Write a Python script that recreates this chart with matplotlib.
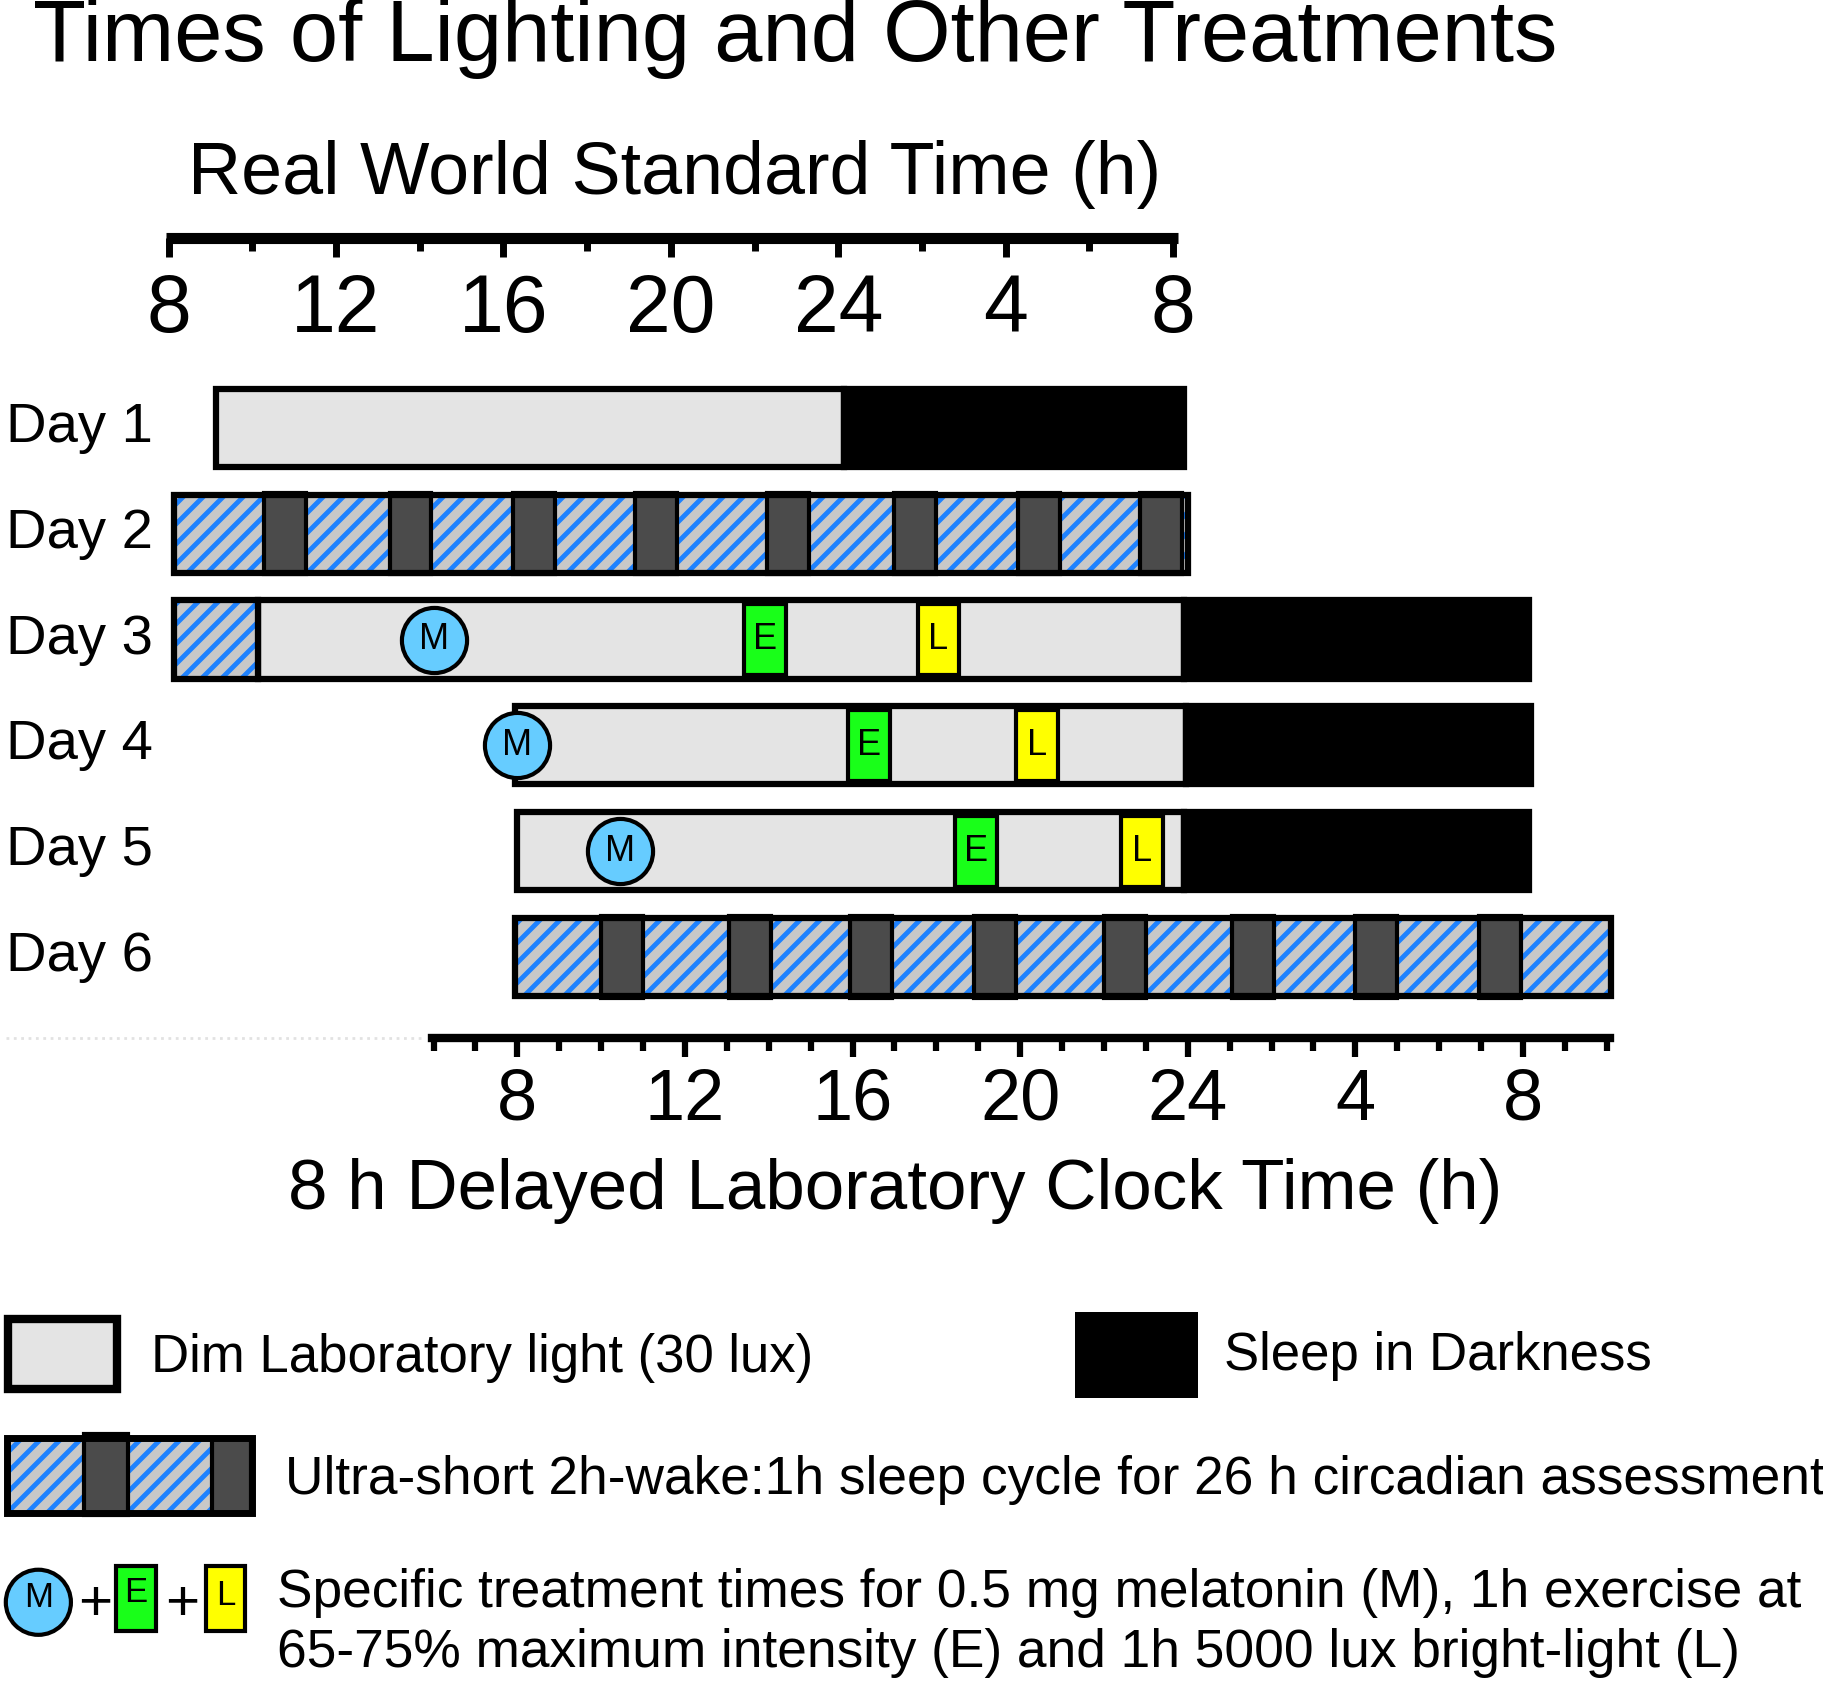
import matplotlib
matplotlib.use('Agg')
import matplotlib.pyplot as plt
from matplotlib.patches import Rectangle, Circle
from matplotlib.ticker import MultipleLocator
from matplotlib.backend_bases import GraphicsContextBase

plt.rcParams['font.family'] = ['Liberation Sans', 'DejaVu Sans']
plt.rcParams['hatch.linewidth'] = 3.5

# denser diagonal hatching (style only; even density keeps the tiling seamless)
_orig_hatch_path = GraphicsContextBase.get_hatch_path
def _dense_hatch_path(self, density=6.0):
    return _orig_hatch_path(self, density=10)
GraphicsContextBase.get_hatch_path = _dense_hatch_path

# ---------------- data ----------------
title = "Times of Lighting and Other Treatments"
top_axis_title = "Real World Standard Time (h)"
bottom_axis_title = "8 h Delayed Laboratory Clock Time (h)"
days = ["Day 1", "Day 2", "Day 3", "Day 4", "Day 5", "Day 6"]
tick_positions = [8, 12, 16, 20, 24, 28, 32]
tick_labels = ["8", "12", "16", "20", "24", "4", "8"]

# all times in laboratory clock hours (top axis = real world time)
dim_day = [1, 3, 4, 5]
dim_start = [0.8, 1.8, 7.95, 8.0]
dim_end = [15.8, 23.9, 23.95, 23.9]

sleep_day = [1, 3, 4, 5]
sleep_start = [15.8, 23.9, 23.95, 23.9]
sleep_end = [23.9, 32.15, 32.2, 32.15]

ultra_day = [2, 3, 6]
ultra_start = [-0.2, -0.2, 7.95]
ultra_end = [24.0, 1.8, 34.1]
ultra_nap_day2 = [1.95, 4.95, 7.9, 10.8, 13.95, 17.0, 19.95, 22.85]
ultra_nap_day6 = [10.0, 13.05, 15.95, 18.9, 22.0, 25.05, 28.0, 30.95]
nap_duration = 1.0

treat_day = [3, 4, 5]
melatonin_time = [6.0, 8.0, 10.45]
exercise_start = [13.4, 15.9, 18.45]
light_start = [17.55, 19.9, 22.4]
treat_duration = 1.0

legend_texts = [
    "Dim Laboratory light (30 lux)",
    "Sleep in Darkness",
    "Ultra-short 2h-wake:1h sleep cycle for 26 h circadian assessment",
    "Specific treatment times for 0.5 mg melatonin (M), 1h exercise at",
    "65-75% maximum intensity (E) and 1h 5000 lux bright-light (L)",
]

# ---------------- styles ----------------
C_DIM = '#e4e4e4'
C_HATCH_BG = '#c8c8c8'
C_HATCH = '#1e82ff'
C_NAP = '#4b4b4b'
C_M = '#66ccff'
C_E = '#19ff19'
C_L = '#ffff00'
BAR_H = 0.74
OUT_LW = 4.5

W, H = 1568.0, 1450.0
def fx(x): return x / W
def fy(y): return 1 - y / H

fig = plt.figure(figsize=(18.23, 16.86), dpi=100)

# main data axes (hours x day rows)
ax = fig.add_axes([0, 0, 1, 1])
px_per_h = 36.04
x8 = 445.0
ax.set_xlim(8 - x8 / px_per_h, 8 + (W - x8) / px_per_h)
row1_y, row_gap = 368.0, 91.0
ax.set_ylim(1 + (H - row1_y) / row_gap, 1 - row1_y / row_gap)
ax.axis('off')

# day labels
for i, d in enumerate(days):
    ax.text(fx(5), i + 1, d, transform=ax.get_yaxis_transform(),
            ha='left', va='center', fontsize=40.5)

# dim light
for d, s, e in zip(dim_day, dim_start, dim_end):
    ax.barh(d, e - s, left=s, height=BAR_H, color=C_DIM,
            edgecolor='black', linewidth=OUT_LW, zorder=2)
# sleep
for d, s, e in zip(sleep_day, sleep_start, sleep_end):
    ax.barh(d, e - s, left=s, height=BAR_H, color='black',
            edgecolor='black', linewidth=OUT_LW, zorder=3)
# ultra-short cycle
naps = {2: ultra_nap_day2, 6: ultra_nap_day6}
for d, s, e in zip(ultra_day, ultra_start, ultra_end):
    ax.barh(d, e - s, left=s, height=BAR_H, color=C_HATCH_BG,
            edgecolor=C_HATCH, hatch='/', linewidth=0, zorder=2)
    for n in naps.get(d, []):
        ax.barh(d, nap_duration, left=n, height=BAR_H + 0.03, color=C_NAP,
                edgecolor='black', linewidth=3, zorder=3)
    ax.barh(d, e - s, left=s, height=BAR_H, fill=False,
            edgecolor='black', linewidth=OUT_LW, zorder=4)

# treatments
for d, m, ex, li in zip(treat_day, melatonin_time, exercise_start, light_start):
    ax.barh(d, treat_duration, left=ex, height=0.67, color=C_E,
            edgecolor='black', linewidth=3, zorder=5)
    ax.text(ex + treat_duration / 2, d, 'E', ha='center', va='center',
            fontsize=26, zorder=6)
    ax.barh(d, treat_duration, left=li, height=0.67, color=C_L,
            edgecolor='black', linewidth=3, zorder=5)
    ax.text(li + treat_duration / 2, d, 'L', ha='center', va='center',
            fontsize=26, zorder=6)
    ax.scatter([m], [d], s=2200, color=C_M, edgecolor='black',
               linewidth=3, zorder=7)
    ax.text(m, d, 'M', ha='center', va='center', fontsize=26, zorder=8)

# ---------------- top axis (real world time) ----------------
ax_top = fig.add_axes([fx(143), fy(205), fx(1013) - fx(143), 1e-4])
ax_top.set_xlim(8 - 2 / 36.0, 32 + 4 / 36.0)
for s in ['top', 'left', 'right']:
    ax_top.spines[s].set_visible(False)
ax_top.spines['bottom'].set_linewidth(8)
ax_top.spines['bottom'].set_capstyle('butt')
ax_top.patch.set_visible(False)
ax_top.set_yticks([])
ax_top.set_xticks(tick_positions, tick_labels)
ax_top.xaxis.set_minor_locator(MultipleLocator(2))
ax_top.tick_params(axis='x', which='major', length=14, width=5,
                   labelsize=58, pad=11)
ax_top.tick_params(axis='x', which='minor', length=9, width=5)

# ---------------- bottom axis (lab clock time) ----------------
ax_bot = fig.add_axes([fx(372), fy(893), fx(1385) - fx(372), 1e-4])
ax_bot.set_xlim(8 - (445 - 372) / px_per_h, 8 + (1385 - 445) / px_per_h)
for s in ['top', 'left', 'right']:
    ax_bot.spines[s].set_visible(False)
ax_bot.spines['bottom'].set_linewidth(6)
ax_bot.patch.set_visible(False)
ax_bot.set_yticks([])
ax_bot.set_xticks(tick_positions, tick_labels)
ax_bot.xaxis.set_minor_locator(MultipleLocator(1))
ax_bot.tick_params(axis='x', which='major', length=14, width=4.5,
                   labelsize=52, pad=7)
ax_bot.tick_params(axis='x', which='minor', length=9, width=4.5)

# ---------------- texts & legend (pixel-like layout axes) ----------------
lg = fig.add_axes([0, 0, 1, 1])
lg.set_xlim(0, W)
lg.set_ylim(H, 0)
lg.axis('off')

lg.text(28, 33, title, ha='left', va='center', fontsize=62.5)
lg.text(580, 150, top_axis_title, ha='center', va='center', fontsize=53)
lg.text(770, 1024, bottom_axis_title, ha='center', va='center', fontsize=51)
lg.plot([5, 365], [893, 893], color='#e2e2e2', ls=':', lw=2)

# dim swatch
lg.add_patch(Rectangle((7, 1134), 94, 61, facecolor=C_DIM,
                       edgecolor='black', linewidth=6))
lg.text(130, 1168, legend_texts[0], ha='left', va='center', fontsize=38)
# sleep swatch
lg.add_patch(Rectangle((925, 1128), 105, 74, facecolor='black',
                       edgecolor='none'))
lg.text(1053, 1166, legend_texts[1], ha='left', va='center', fontsize=38)
# ultra-short swatch
lg.add_patch(Rectangle((6, 1237), 211, 64, facecolor=C_HATCH_BG,
                       edgecolor=C_HATCH, hatch='/', linewidth=0))
lg.add_patch(Rectangle((72, 1233), 38, 70, facecolor=C_NAP,
                       edgecolor='black', linewidth=3))
lg.add_patch(Rectangle((182, 1237), 34, 64, facecolor=C_NAP,
                       edgecolor='black', linewidth=3))
lg.add_patch(Rectangle((6, 1237), 211, 64, fill=False,
                       edgecolor='black', linewidth=5))
lg.text(245, 1273, legend_texts[2], ha='left', va='center', fontsize=38.3)
# treatment swatches
lg.add_patch(Circle((33, 1378), 28, facecolor=C_M, edgecolor='black',
                    linewidth=3))
lg.text(33, 1374, 'M', ha='center', va='center', fontsize=25)
lg.text(82, 1380, '+', ha='center', va='center', fontsize=42)
lg.add_patch(Rectangle((100, 1347), 34, 56, facecolor=C_E,
                       edgecolor='black', linewidth=3))
lg.text(117, 1370, 'E', ha='center', va='center', fontsize=25)
lg.text(157, 1380, '+', ha='center', va='center', fontsize=42)
lg.add_patch(Rectangle((177, 1347), 34, 56, facecolor=C_L,
                       edgecolor='black', linewidth=3))
lg.text(194, 1372, 'L', ha='center', va='center', fontsize=25)
lg.text(238, 1370, legend_texts[3], ha='left', va='center', fontsize=38.3)
lg.text(238, 1422, legend_texts[4], ha='left', va='center', fontsize=38.3)

fig.savefig('out.png', dpi=100)
